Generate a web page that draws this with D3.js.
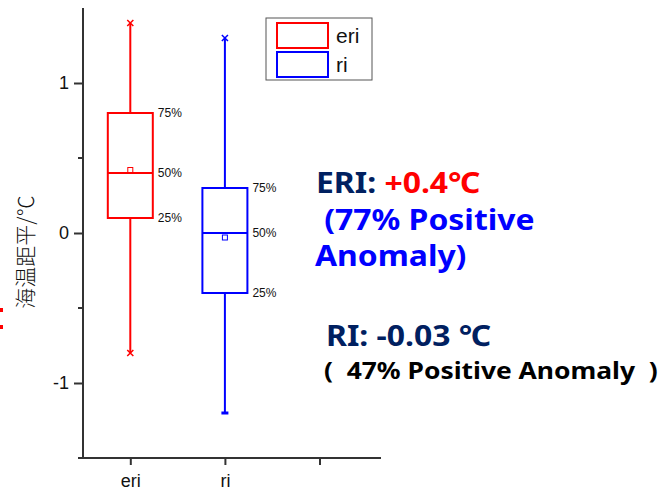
<!DOCTYPE html>
<html>
<head>
<meta charset="utf-8">
<script src="https://cdn.jsdelivr.net/npm/d3@7"></script>
<style>
  body { margin: 0; background: #fff; }
</style>
</head>
<body>
<script>
// box plot data (values in °C)
var categories = ["eri", "ri"];
var xTickLabels = ["eri", "ri", ""];
var whiskerLow = [-0.8, -1.2];
var q1 = [0.1, -0.4];
var median = [0.4, 0.0];
var q3 = [0.8, 0.3];
var whiskerHigh = [1.4, 1.3];
var means = [0.42, -0.03];
var boxColors = ["#ff0000", "#0000ff"];
var yTicks = [-1, 0, 1];

var width = 667, height = 495;
var svg = d3.select("body").append("svg")
  .attr("width", width).attr("height", height);

var x = d3.scaleLinear().domain([0.5, 3.65]).range([83, 381]);
var y = d3.scaleLinear().domain([-1.5, 1.5]).range([458, 8]);
var boxHalf = 22.5;
var axisColor = "#333";

// axes
var yAxis = d3.axisLeft(y).tickValues(yTicks).tickFormat(function(d){ return String(d); })
  .tickSize(9).tickPadding(5);
var gy = svg.append("g").attr("transform", "translate(" + x(0.5) + ",0)").call(yAxis);
gy.select(".domain").attr("stroke", axisColor).attr("stroke-width", 2).attr("d", "M0," + y(1.5) + "V" + y(-1.5));
gy.selectAll(".tick line").attr("stroke", axisColor).attr("stroke-width", 2);
gy.selectAll(".tick text").attr("font-family", "Liberation Sans, Arial").attr("font-size", 18).attr("fill", "#111");
// minor ticks
gy.selectAll(".minor").data([-0.5, 0.5]).enter().append("line")
  .attr("x1", -5).attr("x2", 0).attr("y1", function(d){ return y(d); }).attr("y2", function(d){ return y(d); })
  .attr("stroke", axisColor).attr("stroke-width", 2);

var xAxis = d3.axisBottom(x).tickValues([1, 2, 3]).tickFormat(function(d, i){ return xTickLabels[i]; })
  .tickSize(7).tickPadding(9);
var gx = svg.append("g").attr("transform", "translate(0," + y(-1.5) + ")").call(xAxis);
gx.select(".domain").attr("stroke", axisColor).attr("stroke-width", 2).attr("d", "M78,0H381");
gx.selectAll(".tick line").attr("stroke", axisColor).attr("stroke-width", 2);
gx.selectAll(".tick text").attr("font-family", "Liberation Sans, Arial").attr("font-size", 18).attr("fill", "#111");

// y label
svg.append("text")
  .attr("transform", "translate(33,252) rotate(-90)")
  .attr("text-anchor", "middle")
  .attr("font-family", "Noto Sans CJK SC").attr("font-weight", 300)
  .attr("font-size", 21).attr("fill", "#111")
  .text("海温距平/℃");
// cropped red marks at the left edge
svg.selectAll(".edgeDot").data([310, 327]).enter().append("rect")
  .attr("x", 0).attr("y", function(d){ return d - 2; }).attr("width", 3).attr("height", 4)
  .attr("fill", "#ff0000");

// boxes
var boxes = svg.selectAll(".box").data(categories).enter().append("g").attr("class", "box");
boxes.each(function(c, i) {
  var g = d3.select(this);
  var cx = x(i + 1), col = boxColors[i];
  g.append("line").attr("x1", cx).attr("x2", cx).attr("y1", y(whiskerHigh[i])).attr("y2", y(q3[i]))
    .attr("stroke", col).attr("stroke-width", 2);
  g.append("line").attr("x1", cx).attr("x2", cx).attr("y1", y(q1[i])).attr("y2", y(whiskerLow[i]))
    .attr("stroke", col).attr("stroke-width", 2);
  g.append("rect").attr("x", cx - boxHalf).attr("y", y(q3[i]))
    .attr("width", boxHalf * 2).attr("height", y(q1[i]) - y(q3[i]))
    .attr("fill", "none").attr("stroke", col).attr("stroke-width", 2);
  g.append("line").attr("x1", cx - boxHalf).attr("x2", cx + boxHalf)
    .attr("y1", y(median[i])).attr("y2", y(median[i])).attr("stroke", col).attr("stroke-width", 2);
  g.append("rect").attr("x", cx - 2.5).attr("y", y(means[i]) - 2.5).attr("width", 5).attr("height", 5)
    .attr("fill", "none").attr("stroke", col).attr("stroke-width", 1);
  // whisker end markers
  var ends = i === 0 ? [whiskerHigh[i], whiskerLow[i]] : [whiskerHigh[i]];
  ends.forEach(function(v) {
    g.append("path").attr("d", d3.symbol(d3.symbolTimes, 26)())
      .attr("transform", "translate(" + cx + "," + y(v) + ")")
      .attr("stroke", col).attr("stroke-width", 1.5).attr("fill", "none");
  });
  if (i === 1) {
    g.append("line").attr("x1", cx - 3.5).attr("x2", cx + 3.5)
      .attr("y1", y(whiskerLow[i])).attr("y2", y(whiskerLow[i]))
      .attr("stroke", col).attr("stroke-width", 3);
  }
  // percentile labels
  [["75%", q3[i]], ["50%", median[i]], ["25%", q1[i]]].forEach(function(p) {
    g.append("text").attr("x", cx + boxHalf + 5).attr("y", y(p[1]) + 4)
      .attr("font-family", "Liberation Sans, Arial").attr("font-size", 12).attr("fill", "#111")
      .text(p[0]);
  });
});

// legend
var leg = svg.append("g").attr("transform", "translate(266,18)");
leg.append("rect").attr("width", 106).attr("height", 62)
  .attr("fill", "#fff").attr("stroke", "#555").attr("stroke-width", 1);
categories.forEach(function(c, i) {
  leg.append("rect").attr("x", 11).attr("y", 5 + i * 29).attr("width", 51).attr("height", 25)
    .attr("fill", "none").attr("stroke", boxColors[i]).attr("stroke-width", 2);
  leg.append("text").attr("x", 70).attr("y", 25 + i * 29)
    .attr("font-family", "Liberation Sans, Arial").attr("font-size", 21).attr("fill", "#111").text(c);
});

// annotation text (slightly widened like the original)
var ann = svg.append("g").attr("font-family", "Noto Sans").attr("font-weight", "bold");
function annText(px, py) {
  return ann.append("text").attr("transform", "translate(" + px + "," + py + ") scale(1.1,1)");
}
var t1 = annText(316, 193).attr("font-size", 29);
t1.append("tspan").attr("fill", "#002060").text("ERI: ");
t1.append("tspan").attr("fill", "#ff0000").text("+0.4℃");
annText(316, 230).attr("font-size", 29).attr("fill", "#0000ff")
  .attr("xml:space", "preserve").text(" (77% Positive");
annText(315, 266).attr("font-size", 29).attr("fill", "#0000ff").text("Anomaly)");
annText(326, 346).attr("font-size", 29).attr("fill", "#002060").text("RI: -0.03 ℃");
annText(324, 379).attr("font-size", 24).attr("fill", "#000")
  .attr("xml:space", "preserve").text("(  47% Positive Anomaly  )");
</script>
</body>
</html>
